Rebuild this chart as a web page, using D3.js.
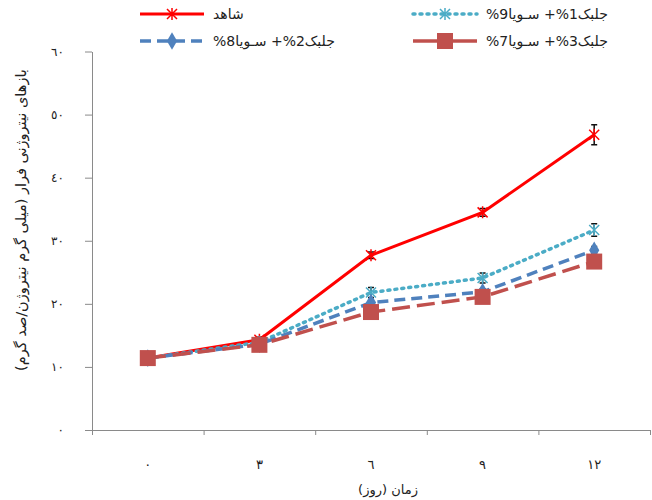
<!DOCTYPE html>
<html>
<head>
<meta charset="utf-8">
<script src="https://cdn.jsdelivr.net/npm/d3@7"></script>
<style>
body { margin: 0; background: #fff; }
text { font-family: "DejaVu Sans", sans-serif; fill: #222; }
</style>
</head>
<body>
<div id="chart"></div>
<script>
// days of storage (x categories)
var days = [0, 3, 6, 9, 12];

// series values
var control = [11.4, 14.3, 27.7, 34.5, 46.8];
var soy9alg1 = [11.4, 13.9, 21.8, 24.1, 31.7];
var soy8alg2 = [11.4, 13.6, 20.2, 21.9, 28.5];
var soy7alg3 = [11.4, 13.5, 18.7, 21.1, 26.7];

// error bars
var controlErr = [0.3, 0.4, 0.5, 0.6, 1.6];
var soy9alg1Err = [0.3, 0.4, 0.8, 0.8, 1.0];
var soy8alg2Err = [0.3, 0.3, 0.5, 0.5, 0.6];
var soy7alg3Err = [0.3, 0.3, 0.5, 0.5, 0.6];

var yTicks = [0, 10, 20, 30, 40, 50, 60];

// LRM marks keep the pieces in the printed left-to-right order
var names = ["شاهد", "\u200E%9سـویا\u200E +%1جلبک", "\u200E%8سـویا\u200E +%2جلبک", "\u200E%7سـویا\u200E +%3جلبک"];
var yTitle = "بازهای نیتروژنی فرار (میلی گرم نیتروژن/صد گرم)";
var xTitle = "زمان (روز)";

// arabic-indic digits for tick labels
function fa(n) {
  return String(n).replace(/[0-9]/g, function (c) { return "٠١٢٣٤٥٦٧٨٩"[+c]; });
}

var width = 652, height = 500;
var svg = d3.select("#chart").append("svg")
  .attr("width", width)
  .attr("height", height);

var x = d3.scaleBand().domain(days).range([92, 650]).padding(0);
var xb = d3.scaleLinear().domain([0, days.length]).range([92, 650]);
var y = d3.scaleLinear().domain([0, 60]).range([430, 51.5]);

// x axis: boundary ticks
svg.append("g")
  .attr("transform", "translate(0,430)")
  .call(d3.axisBottom(xb).tickValues(d3.range(days.length + 1)).tickSize(5).tickSizeOuter(0).tickFormat(""))
  .call(function (g) { g.selectAll("line,path").attr("stroke", "#8a8a8a"); });

// x labels
svg.append("g")
  .attr("transform", "translate(0,430)")
  .call(d3.axisBottom(x).tickSize(0).tickPadding(30).tickFormat(fa))
  .call(function (g) {
    g.select(".domain").remove();
    g.selectAll("text").attr("font-size", 13).attr("font-family", "DejaVu Sans").attr("fill", "#333");
  });

// y axis
svg.append("g")
  .attr("transform", "translate(92,0)")
  .call(d3.axisLeft(y).tickValues(yTicks).tickSize(7).tickSizeOuter(0).tickPadding(21).tickFormat(fa))
  .call(function (g) {
    g.selectAll("line,path").attr("stroke", "#8a8a8a");
    g.selectAll("text").attr("font-size", 12).attr("font-family", "DejaVu Sans").attr("fill", "#333");
  });

// axis titles
svg.append("text")
  .attr("transform", "translate(26,220) rotate(-90)")
  .attr("text-anchor", "middle")
  .attr("direction", "rtl")
  .attr("font-size", 14.5)
  .text(yTitle);

svg.append("text")
  .attr("x", 388).attr("y", 494)
  .attr("text-anchor", "middle")
  .attr("direction", "rtl")
  .attr("font-size", 13)
  .text(xTitle);

var series = [
  {name: names[0], values: control, err: controlErr, color: "#ff0000", dash: null, width: 3, marker: "star"},
  {name: names[1], values: soy9alg1, err: soy9alg1Err, color: "#4bacc6", dash: "2,5", width: 3.5, marker: "star"},
  {name: names[2], values: soy8alg2, err: soy8alg2Err, color: "#4f81bd", dash: "11,6", width: 3.5, marker: "diamond"},
  {name: names[3], values: soy7alg3, err: soy7alg3Err, color: "#c0504d", dash: "18,7", width: 3.5, marker: "square"}
];

var line = d3.line()
  .x(function (d, i) { return x(days[i]) + x.bandwidth() / 2; })
  .y(function (d) { return y(d); });

function drawMarker(g, type, color, cx, cy) {
  if (type === "square") {
    g.append("rect").attr("x", cx - 8).attr("y", cy - 8).attr("width", 16).attr("height", 16)
      .attr("fill", color);
  } else if (type === "diamond") {
    g.append("path").attr("d", d3.symbol().type(d3.symbolDiamond).size(90)())
      .attr("transform", "translate(" + cx + "," + cy + ")")
      .attr("fill", color);
  } else {
    g.append("path")
      .attr("d", "M-5,-5L5,5M-5,5L5,-5M0,-6L0,6")
      .attr("transform", "translate(" + cx + "," + cy + ")")
      .attr("stroke", color).attr("stroke-width", 1.5).attr("fill", "none");
  }
}

series.forEach(function (s) {
  var g = svg.append("g");
  g.append("path")
    .datum(s.values)
    .attr("d", line)
    .attr("fill", "none")
    .attr("stroke", s.color)
    .attr("stroke-width", s.width)
    .attr("stroke-linecap", s.dash === "2,5" ? "round" : "butt")
    .attr("stroke-dasharray", s.dash);
  // error bars
  s.values.forEach(function (v, i) {
    var cx = x(days[i]) + x.bandwidth() / 2;
    var e = s.err[i];
    g.append("path")
      .attr("d", "M" + (cx - 3) + "," + y(v + e) + "H" + (cx + 3) +
        "M" + cx + "," + y(v + e) + "V" + y(v - e) +
        "M" + (cx - 3) + "," + y(v - e) + "H" + (cx + 3))
      .attr("stroke", "#111").attr("stroke-width", 1.5).attr("fill", "none");
  });
  s.values.forEach(function (v, i) {
    drawMarker(g, s.marker, s.color, x(days[i]) + x.bandwidth() / 2, y(v));
  });
});

// legend
var legendPos = [[140, 14], [413, 14], [140, 41], [413, 41]];
series.forEach(function (s, i) {
  var lx = legendPos[i][0], ly = legendPos[i][1];
  var g = svg.append("g");
  g.append("line")
    .attr("x1", lx).attr("x2", lx + 64).attr("y1", ly).attr("y2", ly)
    .attr("stroke", s.color)
    .attr("stroke-width", s.width)
    .attr("stroke-linecap", s.dash === "2,5" ? "round" : "butt")
    .attr("stroke-dasharray", i === 3 ? null : s.dash);
  drawMarker(g, s.marker, s.color, lx + 32, ly);
  g.append("text")
    .attr("x", lx + 73).attr("y", ly + 5)
    .attr("direction", "ltr")
    .attr("font-size", 14)
    .text(s.name);
});
</script>
</body>
</html>
